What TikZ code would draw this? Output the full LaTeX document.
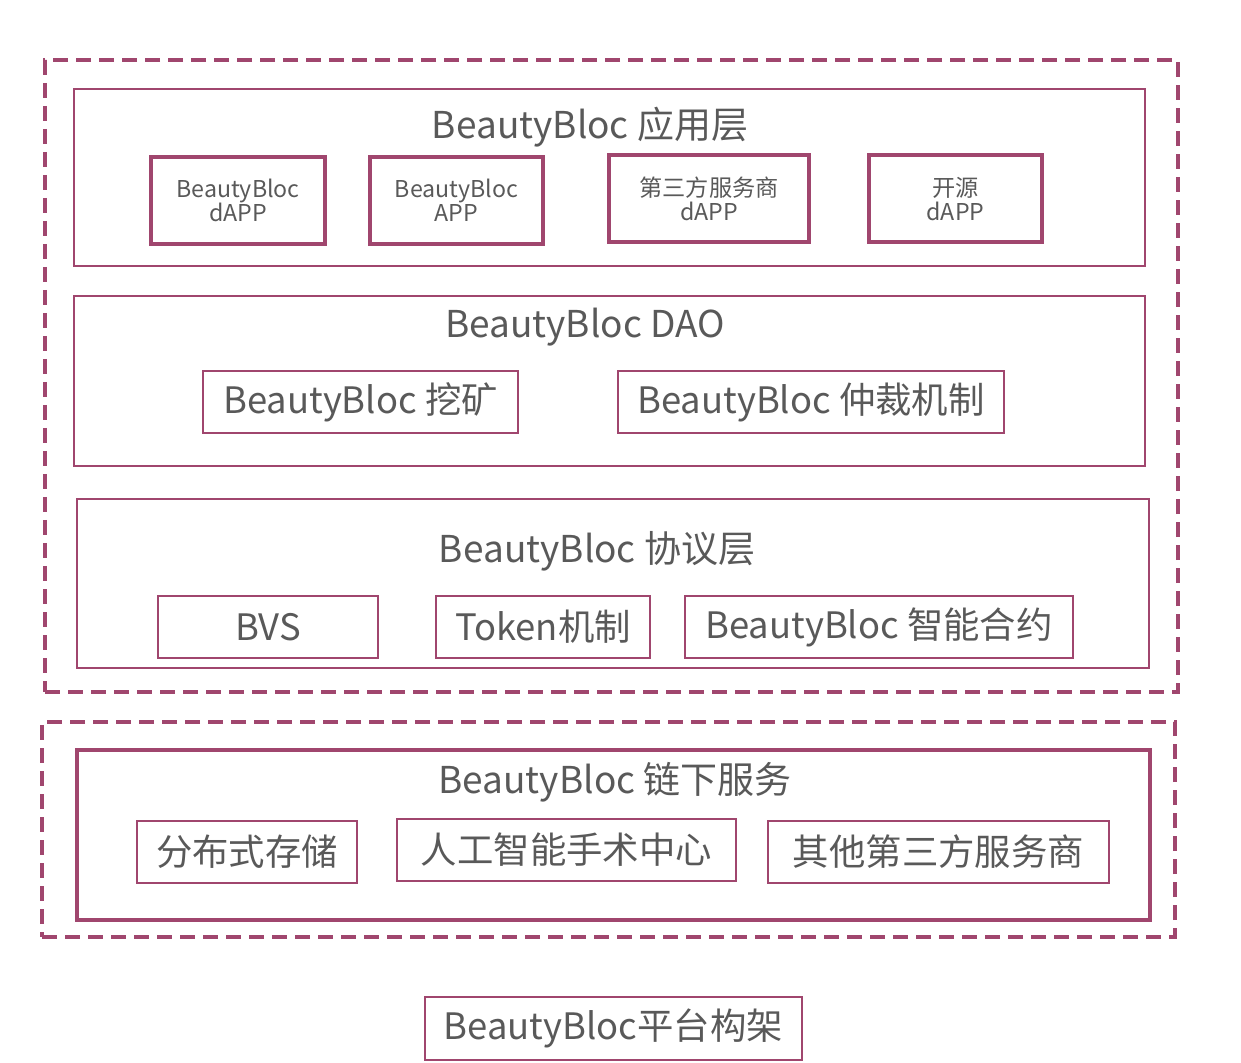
\documentclass[tikz,border=0pt]{standalone}
\usepackage{fontspec}
\setmainfont{Noto Sans CJK SC}
\usepackage{tikz}
\definecolor{frame}{RGB}{160,70,110}
\definecolor{txt}{RGB}{89,89,89}
\tikzset{
  outerbox/.style={draw=frame,line width=1.6pt,dash pattern=on 7.5pt off 4pt,inner sep=0pt},
  layerbox/.style={draw=frame,line width=1pt,inner sep=0pt},
  appbox/.style={draw=frame,line width=2pt,inner sep=0pt,align=center,text=txt,
    font=\fontsize{11.6}{12.2}\selectfont,minimum height=43.5pt},
  subbox/.style={draw=frame,line width=0.6pt,inner sep=0pt,text=txt,
    font=\fontsize{18.2}{20}\selectfont,minimum height=31pt},
  title/.style={text=txt,font=\fontsize{18.5}{20}\selectfont,inner sep=0pt}
}
\begin{document}
\begin{tikzpicture}[x=0.5pt,y=-0.5pt]
\useasboundingbox (0,0) rectangle (1241,1063);
\node[outerbox,minimum width=566.5pt,minimum height=316pt] (onchain) at (611.5,376) {};
\node[outerbox,minimum width=566.5pt,minimum height=107.5pt] (offchain) at (608.5,829.5) {};
\node[layerbox,minimum width=535.5pt,minimum height=88.5pt] (app) at (609.5,177.5) {};
\node[layerbox,minimum width=535.5pt,minimum height=85pt] (dao) at (609.5,381) {};
\node[layerbox,minimum width=536pt,minimum height=84.5pt] (proto) at (613,583.5) {};
\node[layerbox,line width=2pt,minimum width=536.5pt,minimum height=85pt] (serv) at (613.5,835) {};
\node[title] (apptitle) at (590,127) {BeautyBloc 应用层};
\node[title] (daotitle) at (585,327) {BeautyBloc DAO};
\node[title] (prototitle) at (597,551) {BeautyBloc 协议层};
\node[title] (servtitle) at (615,782) {BeautyBloc 链下服务};
\node[appbox,minimum width=87pt] (dapp) at (238,200.5) {BeautyBloc\\dAPP};
\node[appbox,minimum width=86.5pt] (mapp) at (456.5,200.5) {BeautyBloc\\APP};
\node[appbox,minimum width=100pt] (thirdapp) at (709,199) {第三方服务商\\dAPP};
\node[appbox,minimum width=86.5pt] (openapp) at (955.5,199) {开源\\dAPP};
\node[subbox,minimum width=157.5pt] (mining) at (360.5,402) {BeautyBloc 挖矿};
\node[subbox,minimum width=193pt] (arbit) at (811,402) {BeautyBloc 仲裁机制};
\node[subbox,minimum width=110pt] (bvs) at (268,627) {BVS};
\node[subbox,minimum width=107pt] (token) at (543,627) {Token机制};
\node[subbox,minimum width=194pt] (contract) at (879,627) {BeautyBloc 智能合约};
\node[subbox,minimum width=110pt] (storage) at (247,852) {分布式存储};
\node[subbox,minimum width=169.5pt] (ai) at (566.5,850) {人工智能手术中心};
\node[subbox,minimum width=170.5pt] (others) at (938.5,852) {其他第三方服务商};
\node[subbox,minimum width=188.5pt,minimum height=31.5pt] (caption) at (613.5,1028.5) {BeautyBloc平台构架};
\end{tikzpicture}
\end{document}
